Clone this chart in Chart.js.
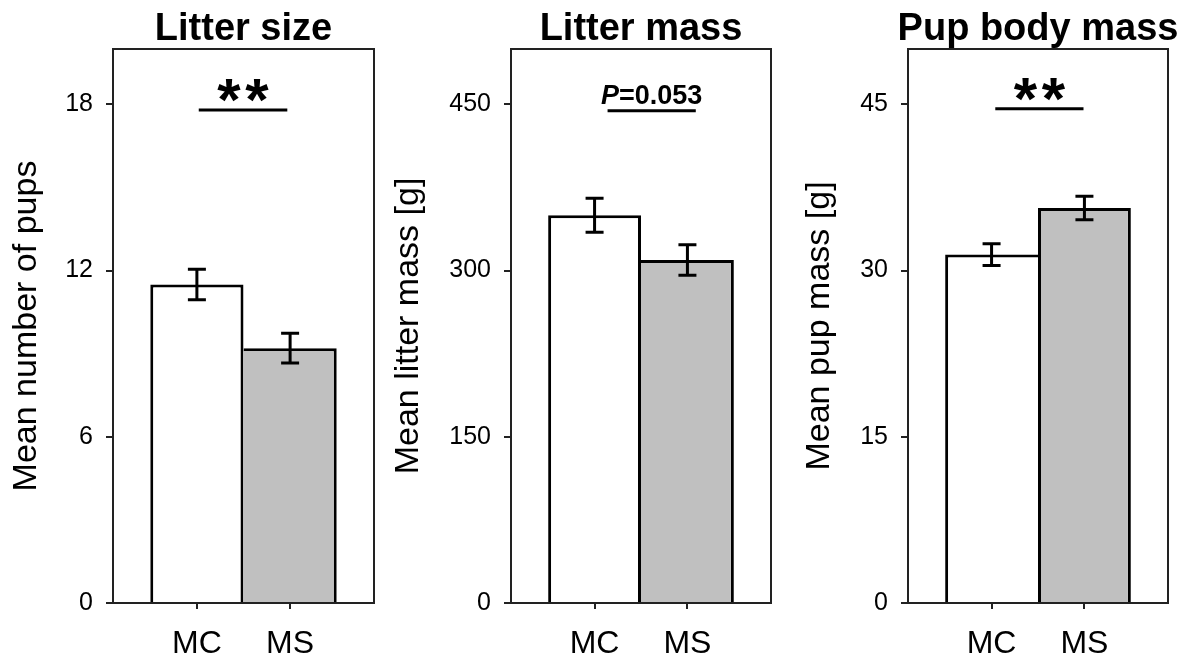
<!DOCTYPE html>
<html>
<head>
<meta charset="utf-8">
<script src="https://cdn.jsdelivr.net/npm/chart.js@4.4.1/dist/chart.umd.min.js"></script>
<style>
  body { margin: 0; background: #fff; width: 1191px; height: 661px; overflow: hidden; position: relative; }
  canvas { position: absolute; top: 0; }
</style>
</head>
<body>
<canvas id="c0" width="397" height="661" style="left:0px"></canvas>
<canvas id="c1" width="414" height="661" style="left:380px"></canvas>
<canvas id="c2" width="397" height="661" style="left:794px"></canvas>
<script>
// groups on the x axis
const groups = ['MC', 'MS'];

// panel texts
const titles = ['Litter size', 'Litter mass', 'Pup body mass'];
const yTitles = ['Mean number of pups', 'Mean litter mass [g]', 'Mean pup mass [g]'];

// means and standard errors, MC then MS
const litterSize = [11.5, 9.2];
const litterSizeSE = [0.55, 0.54];
const litterMass = [350, 309.6];
const litterMassSE = [15.3, 13.8];
const pupMass = [31.45, 35.65];
const pupMassSE = [0.98, 1.06];

// y axes
const ticksSize = [0, 6, 12, 18];
const ticksMass = [0, 150, 300, 450];
const ticksPup = [0, 15, 30, 45];
const yMax = [20, 500, 50];

// significance marks: label, height of the bar, x range (in group units)
const sigLabels = ['**', 'P=0.053', '**'];
const sigLevels = [17.8, 444.3, 44.6];
const sigFrom = [0.02, 0.14, 0.04];
const sigTo = [0.97, 1.09, 0.99];

const FONT = 'Arial, "Liberation Sans", sans-serif';
Chart.defaults.font.family = FONT;
Chart.defaults.color = '#000';

// per panel layout: y axis width and y title offset
const axisWidth = [113, 131, 114];
const yTitlePad = [9.5, 11.2, 8.9];

const panelDecor = {
  id: 'panelDecor',
  afterDatasetsDraw(chart, args, opts) {
    const {ctx, chartArea: a, scales: {x, y}} = chart;
    ctx.save();

    // error bars
    ctx.strokeStyle = '#000';
    ctx.lineWidth = 3;
    opts.means.forEach((m, i) => {
      const px = x.getPixelForValue(i);
      const hi = y.getPixelForValue(m + opts.se[i]);
      const lo = y.getPixelForValue(m - opts.se[i]);
      ctx.beginPath();
      ctx.moveTo(px, hi); ctx.lineTo(px, lo);
      ctx.moveTo(px - 9, hi); ctx.lineTo(px + 9, hi);
      ctx.moveTo(px - 9, lo); ctx.lineTo(px + 9, lo);
      ctx.stroke();
    });

    // frame
    ctx.lineWidth = 2;
    ctx.strokeStyle = '#222';
    ctx.strokeRect(a.left, a.top, a.right - a.left, a.bottom - a.top);

    // significance line + label
    const ly = y.getPixelForValue(opts.sigLevel);
    const x1 = x.getPixelForValue(opts.sigFrom);
    const x2 = x.getPixelForValue(opts.sigTo);
    ctx.strokeStyle = '#000';
    ctx.lineWidth = 3;
    ctx.beginPath();
    ctx.moveTo(x1, ly); ctx.lineTo(x2, ly);
    ctx.stroke();

    const cx = (x1 + x2) / 2;
    const label = opts.sigLabel;
    ctx.fillStyle = '#000';
    ctx.textBaseline = 'alphabetic';
    if (label.startsWith('P')) {
      const rest = label.slice(1);
      ctx.font = 'italic bold 27px ' + FONT;
      const wP = ctx.measureText('P').width;
      ctx.font = 'bold 27px ' + FONT;
      const wR = ctx.measureText(rest).width;
      const x0 = cx - (wP + wR) / 2;
      const base = ly - 7;
      ctx.textAlign = 'left';
      ctx.font = 'italic bold 27px ' + FONT;
      ctx.fillText('P', x0, base);
      ctx.font = 'bold 27px ' + FONT;
      ctx.fillText(rest, x0 + wP, base);
    } else {
      ctx.font = 'bold 60px ' + FONT;
      ctx.textAlign = 'center';
      const m = ctx.measureText('*');
      const base = ly - 8 - m.actualBoundingBoxDescent;
      const n = label.length;
      for (let k = 0; k < n; k++) {
        ctx.fillText(label[k], cx + (k - (n - 1) / 2) * 28, base);
      }
    }

    // panel title
    ctx.font = 'bold 38px ' + FONT;
    ctx.textAlign = 'center';
    ctx.fillText(opts.title, (a.left + a.right) / 2, 40);

    ctx.restore();
  }
};

function makePanel(idx, means, se, yTicks) {
  const taller = means[0] >= means[1] ? 0 : 1;
  new Chart(document.getElementById('c' + idx), {
    type: 'bar',
    data: {
      datasets: [{
        data: groups.map((g, i) => ({x: i, y: means[i]})),
        backgroundColor: ['#ffffff', '#c0c0c0'],
        borderColor: '#000',
        borderWidth: [
          {top: 3, left: 3, right: taller === 0 ? 3 : 0, bottom: 0},
          {top: 3, left: taller === 1 ? 3 : 0, right: 3, bottom: 0}
        ],
        borderSkipped: false,
        inflateAmount: 0,
        barPercentage: 1,
        categoryPercentage: 1
      }]
    },
    options: {
      responsive: false,
      animation: false,
      layout: {padding: {top: 49, right: 23, left: 0, bottom: 0}},
      plugins: {
        legend: {display: false},
        tooltip: {enabled: false},
        title: {display: false},
        panelDecor: {
          means: means, se: se, title: titles[idx],
          sigLabel: sigLabels[idx], sigLevel: sigLevels[idx],
          sigFrom: sigFrom[idx], sigTo: sigTo[idx]
        }
      },
      scales: {
        x: {
          type: 'linear',
          min: -0.9,
          max: 1.9,
          offset: false,
          afterBuildTicks: s => { s.ticks = groups.map((g, i) => ({value: i})); },
          afterFit: s => { s.height = 58; },
          grid: {offset: false, drawOnChartArea: false, tickLength: 6, color: '#222', lineWidth: 2},
          border: {display: false},
          ticks: {
            font: {size: 32},
            padding: 16,
            maxRotation: 0,
            callback: v => groups[v]
          }
        },
        y: {
          min: 0,
          max: yMax[idx],
          afterBuildTicks: s => { s.ticks = yTicks.map(v => ({value: v})); },
          afterFit: s => { s.width = axisWidth[idx]; },
          grid: {drawOnChartArea: false, tickLength: 7, color: '#222', lineWidth: 2},
          border: {display: false},
          ticks: {font: {size: 25}, padding: 13},
          title: {
            display: true,
            text: yTitles[idx],
            font: {size: 34, lineHeight: 1},
            padding: {top: yTitlePad[idx], bottom: 0}
          }
        }
      }
    },
    plugins: [panelDecor]
  });
}

makePanel(0, litterSize, litterSizeSE, ticksSize);
makePanel(1, litterMass, litterMassSE, ticksMass);
makePanel(2, pupMass, pupMassSE, ticksPup);
</script>
</body>
</html>
